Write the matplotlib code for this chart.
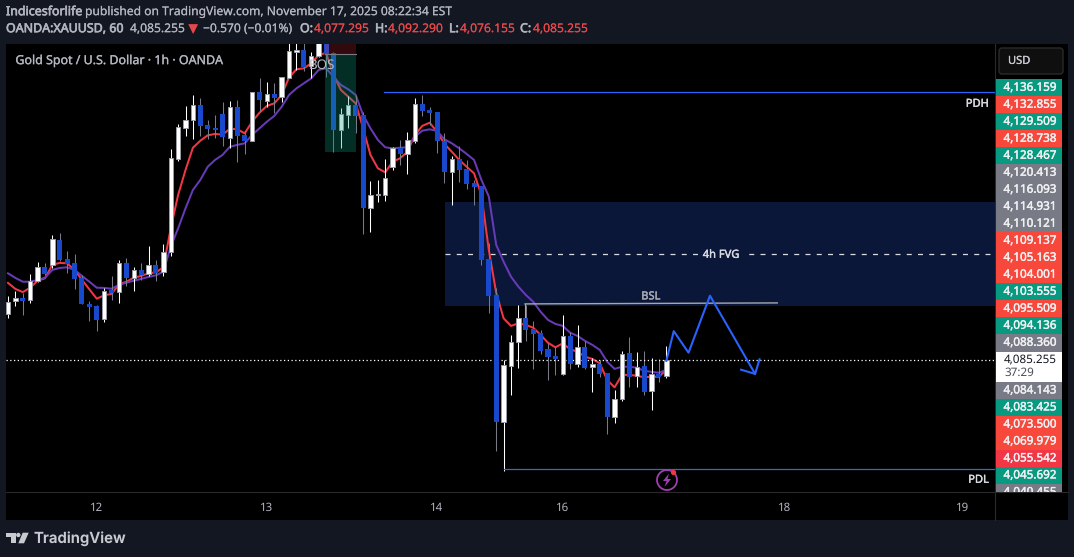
# -*- coding: utf-8 -*-
import matplotlib
matplotlib.use("Agg")
import matplotlib.pyplot as plt
import matplotlib.patheffects as pe
from matplotlib.patches import Rectangle, Circle, Polygon, FancyBboxPatch

plt.rcParams['font.family'] = ['Noto Sans', 'DejaVu Sans']
plt.rcParams['text.hinting'] = 'no_hinting'

# hourly candles
opens = [4108.1, 4114.6, 4116.3, 4115.1, 4124.9, 4131.6, 4132.9, 4145.1, 4135.6, 4133.6,
         4126.1, 4113.3, 4112.3, 4105.6, 4120.3, 4119.1, 4133.6, 4126.4, 4130.3, 4128.1,
         4132.6, 4129.4, 4139.1, 4185.9, 4201.4, 4205.1, 4212.6, 4202.6, 4201.3, 4208.3,
         4196.4, 4211.6, 4197.8, 4194.9, 4219.3, 4214.9, 4218.3, 4216.6, 4226.4, 4239.4,
         4240.3, 4232.4, 4237.3, 4246.3, 4238.6, 4200.3, 4207.8, 4212.8, 4207.8, 4161.4,
         4167.8, 4167.8, 4181.6, 4191.4, 4188.4, 4194.9, 4213.3, 4210.3, 4209.3, 4194.8,
         4179.4, 4185.8, 4180.6, 4173.8, 4172.3, 4135.8, 4117.8, 4054.4, 4082.4, 4094.1,
         4106.3, 4100.6, 4098.6, 4090.8, 4087.3, 4078.1, 4097.3, 4083.1, 4091.6, 4081.6,
         4083.3, 4078.8, 4056.9, 4065.6, 4088.6, 4077.1, 4082.1, 4069.6, 4078.4, 4077.295]
highs = [4117.3, 4119.8, 4118.6, 4128.3, 4134.3, 4133.6, 4147.8, 4148.8, 4139.8, 4138.3,
         4127.8, 4114.8, 4112.8, 4121.1, 4127.3, 4135.3, 4136.3, 4131.6, 4133.8, 4142.3,
         4135.3, 4143.3, 4190.8, 4203.3, 4212.3, 4217.8, 4216.3, 4205.3, 4207.6, 4214.1,
         4214.8, 4215.3, 4199.9, 4219.1, 4226.1, 4224.3, 4223.6, 4226.8, 4246.3, 4245.3,
         4245.3, 4239.4, 4247.3, 4247.3, 4239.4, 4211.3, 4217.3, 4217.8, 4209.4, 4174.8,
         4175.3, 4185.8, 4191.6, 4195.3, 4199.3, 4216.3, 4217.8, 4211.8, 4209.3, 4198.8,
         4187.3, 4192.3, 4185.3, 4175.3, 4172.3, 4143.8, 4121.1, 4085.3, 4097.8, 4112.8,
         4112.8, 4104.8, 4100.3, 4093.8, 4091.9, 4107.8, 4099.1, 4102.8, 4094.8, 4086.4,
         4085.3, 4078.8, 4070.3, 4089.8, 4096.6, 4089.3, 4089.6, 4086.1, 4085.6, 4092.29]
lows = [4106.4, 4112.5, 4107.8, 4113.9, 4124.4, 4127.8, 4131.4, 4134.9, 4128.6, 4120.9,
        4113.4, 4104.9, 4099.9, 4104.4, 4115.3, 4113.9, 4122.4, 4119.9, 4125.3, 4127.3,
        4124.9, 4127.3, 4137.3, 4184.9, 4197.3, 4195.8, 4197.3, 4195.8, 4196.4, 4192.4,
        4191.1, 4184.4, 4188.3, 4194.9, 4209.4, 4211.8, 4208.9, 4214.4, 4226.1, 4230.3,
        4229.8, 4226.1, 4236.8, 4226.9, 4189.4, 4191.1, 4201.1, 4198.6, 4148.3, 4149.3,
        4164.3, 4164.8, 4180.3, 4182.8, 4178.3, 4193.9, 4207.3, 4202.8, 4188.8, 4173.8,
        4162.8, 4174.3, 4170.8, 4162.8, 4132.8, 4108.9, 4039.9, 4029.9, 4067.8, 4081.4,
        4094.8, 4080.9, 4088.3, 4075.3, 4077.9, 4077.8, 4080.8, 4081.9, 4080.9, 4069.4,
        4076.9, 4048.4, 4053.9, 4064.9, 4071.9, 4071.9, 4067.8, 4060.3, 4074.3, 4076.155]
closes = [4114.4, 4116.1, 4114.8, 4124.9, 4131.6, 4128.4, 4145.6, 4135.4, 4133.3, 4125.9,
          4113.4, 4111.8, 4105.4, 4119.9, 4118.8, 4133.6, 4126.4, 4130.1, 4127.8, 4132.6,
          4128.8, 4139.1, 4186.1, 4201.6, 4205.1, 4212.6, 4202.4, 4200.8, 4200.4, 4196.6,
          4211.6, 4197.4, 4194.8, 4219.1, 4215.4, 4218.1, 4216.4, 4226.6, 4239.6, 4240.3,
          4231.6, 4237.3, 4246.3, 4238.1, 4200.3, 4208.3, 4212.8, 4207.3, 4161.4, 4167.6,
          4168.3, 4176.1, 4191.4, 4188.3, 4195.1, 4213.1, 4209.8, 4208.8, 4194.8, 4179.3,
          4185.6, 4180.3, 4173.3, 4171.8, 4135.3, 4117.3, 4054.4, 4082.6, 4094.1, 4106.1,
          4100.3, 4098.4, 4089.8, 4086.9, 4085.8, 4097.1, 4083.4, 4091.6, 4081.4, 4083.1,
          4078.4, 4056.9, 4065.6, 4088.1, 4076.9, 4081.9, 4069.3, 4078.1, 4076.8, 4085.255]

ma_fast = [4123.8, 4120.8, 4119.2, 4121.4, 4124.9, 4126.1, 4132.9, 4133.8, 4133.6, 4130.3,
           4125.3, 4120.6, 4115.9, 4117.6, 4118.3, 4123.1, 4124.4, 4126.4, 4127.3, 4128.6,
           4129.1, 4131.6, 4151.1, 4167.8, 4180.3, 4191.4, 4194.9, 4197.6, 4198.3, 4197.9,
           4200.9, 4200.6, 4198.6, 4204.4, 4208.9, 4212.3, 4213.6, 4217.8, 4226.6, 4230.6,
           4231.1, 4233.6, 4237.8, 4238.8, 4227.8, 4220.3, 4216.9, 4213.6, 4201.3, 4187.8,
           4181.1, 4179.1, 4184.4, 4186.1, 4189.4, 4197.8, 4202.3, 4203.9, 4199.4, 4193.3,
           4189.4, 4185.3, 4181.9, 4178.6, 4167.8, 4140.3, 4118.8, 4106.1, 4102.3, 4103.6,
           4102.8, 4101.4, 4097.8, 4093.9, 4091.6, 4093.6, 4090.6, 4089.4, 4086.9, 4085.8,
           4083.6, 4075.3, 4071.6, 4077.8, 4077.8, 4077.4, 4076.6, 4076.9, 4076.9, 4080.3]
ma_slow = [4128.6, 4126.3, 4124.4, 4124.4, 4125.3, 4126.4, 4130.3, 4131.3, 4131.6, 4130.3,
           4127.3, 4124.4, 4121.4, 4121.3, 4120.9, 4122.8, 4123.9, 4124.9, 4125.8, 4126.8,
           4127.6, 4129.4, 4141.9, 4151.1, 4161.1, 4170.3, 4175.3, 4181.9, 4185.3, 4187.8,
           4191.9, 4192.8, 4193.6, 4197.8, 4201.1, 4204.4, 4207.3, 4211.9, 4217.8, 4221.1,
           4223.6, 4226.1, 4230.3, 4231.1, 4226.9, 4222.8, 4220.6, 4217.8, 4207.8, 4201.1,
           4195.3, 4191.6, 4191.1, 4191.4, 4191.6, 4196.9, 4199.9, 4200.6, 4199.8, 4195.6,
           4193.6, 4191.1, 4188.3, 4185.3, 4175.3, 4167.0, 4142.8, 4134.4, 4126.9, 4121.9,
           4117.8, 4114.4, 4109.4, 4105.3, 4103.3, 4102.3, 4098.9, 4097.3, 4094.8, 4092.8,
           4090.3, 4084.4, 4080.8, 4081.9, 4081.9, 4081.4, 4079.9, 4079.3, 4078.9, 4080.3]

tick_bars = [12, 35, 58, 75, 105, 129]
tick_labels = ["12", "13", "14", "16", "18", "19"]

# hand drawn projection and levels
path_bars = [89, 90, 92, 94.9, 101, 101.6]
path_prices = [4084.8, 4099.7, 4088.9, 4117.4, 4078.3, 4085.6]
arrow_bars = [99.1, 101]
arrow_prices = [4080.4, 4078.3]
pdh = 4219.3
pdl = 4030.8
bsl_bars = [69.9, 104]
bsl_prices = [4113.3, 4113.8]
fvg_top = 4164.3
fvg_bottom = 4112.3
fvg_mid = 4138.3
bos_level = 4238.3
bos_stop = 4189.4
last_price = 4085.255

teal = "#089981"
red = "#f7483b"
grey = "#787b86"
crimson = "#f23645"
scale_labels = [("4,136.159", teal), ("4,132.855", red), ("4,129.509", teal), ("4,128.738", red),
                ("4,128.467", teal), ("4,120.413", grey), ("4,116.093", grey), ("4,114.931", grey),
                ("4,110.121", grey), ("4,109.137", red), ("4,105.163", red), ("4,104.001", red),
                ("4,103.555", teal), ("4,095.509", red), ("4,094.136", teal), ("4,088.360", grey)]
scale_labels_low = [("4,084.143", grey), ("4,083.425", teal), ("4,073.500", red), ("4,069.979", red),
                    ("4,055.542", crimson), ("4,045.692", teal), ("4,040.455", grey)]

W, H = 1074, 557
BG = "#131722"
TXT = "#b2b5be"
BLUE = "#1848cc"


def heavy(color, w=0.3):
    # Noto Sans here has no real bold, thicken the outline instead
    return [pe.withStroke(linewidth=w, foreground=color)]


fig = plt.figure(figsize=(W / 100, H / 100), dpi=100, facecolor=BG)

# black part of the window behind the time axis
fig.add_artist(Rectangle((6 / W, 1 - 520 / H), 1062 / W, 476 / H, transform=fig.transFigure,
                         fc="black", ec="none", zorder=0))

# main pane, 6..995 x 44..491 in pixels
ax = fig.add_axes([6 / W, 1 - 491 / H, 989 / W, 447 / H], facecolor="black", zorder=1)
ax.set_xlim(-0.27, 133.43)
ax.set_ylim(4019.755, 4243.255)
for s in ax.spines.values():
    s.set_visible(False)
ax.set_yticks([])
ax.set_xticks(tick_bars)
ax.set_xticklabels(tick_labels, color=TXT, fontsize=8.3)
ax.tick_params(axis="x", length=0, pad=8)

ax.add_patch(Rectangle((59.1, fvg_bottom), 80, fvg_top - fvg_bottom, fc="#0a1738", ec="none", zorder=1))
ax.plot([59.1, 134], [fvg_mid, fvg_mid], color="#d8dbe2", lw=0.9, dashes=(4, 5), zorder=1.5)

bars = range(len(opens))
ax.plot(bars, ma_fast, color=crimson, lw=1.45, zorder=2)
ax.plot(bars, ma_slow, color="#673ab7", lw=1.45, zorder=2)

for i in bars:
    up = closes[i] >= opens[i]
    bottom = min(opens[i], closes[i])
    height = max(abs(closes[i] - opens[i]), 0.4)
    ax.vlines(i, lows[i], highs[i], color="white" if up else grey, lw=0.75, zorder=3)
    if up:
        ax.bar(i, height, 0.6, bottom=bottom, color="white", edgecolor="#9a9da6", linewidth=0.7, zorder=4)
    else:
        ax.bar(i, height, 0.68, bottom=bottom, color=BLUE, linewidth=0, zorder=4)

# BOS position box sits over the candles
ax.add_patch(Rectangle((42.9, bos_stop), 4.1, bos_level - bos_stop, fc=teal, alpha=0.3, ec="none", zorder=5))
ax.add_patch(Rectangle((42.9, bos_level), 4.1, 10, fc=crimson, alpha=0.2, ec="none", zorder=5))
ax.plot([42.9, 47], [bos_level, bos_level], color=grey, lw=0.8, zorder=5)
ax.text(42.4, 4232.8, "BOS", color="#b7bac2", fontsize=9.6, ha="center", va="center", zorder=6)

ax.axhline(last_price, color="white", lw=0.9, dashes=(1, 2), zorder=3.5)
ax.plot([50.8, 134], [pdh, pdh], color="#2962ff", lw=0.9, zorder=3)
ax.plot([67, 134], [pdl, pdl], color="#3f63c8", lw=0.9, zorder=3)
ax.plot(bsl_bars, bsl_prices, color="#a5a8b0", lw=1.0, zorder=3)
ax.plot([69.9, 69.9], [4113.3, 4105], color="#a5a8b0", lw=0.8, zorder=3)
ax.plot(path_bars, path_prices, color="#2962ff", lw=1.5, zorder=6)
ax.plot(arrow_bars, arrow_prices, color="#2962ff", lw=1.5, zorder=6)

ax.text(96.4, fvg_mid - 0.5, "4h FVG", color="#d8dbe2", fontsize=8, ha="center", va="center", zorder=6,
        bbox=dict(fc="#0a1738", ec="none", pad=3.5), path_effects=heavy("#d8dbe2"))
ax.text(86.9, 4117.0, "BSL", color="#a5a8b0", fontsize=8, ha="center", va="center", zorder=6,
        path_effects=heavy("#a5a8b0"))
ax.text(132.6, 4213.3, "PDH", color="#d8dbe2", fontsize=8, ha="right", va="center", zorder=6,
        path_effects=heavy("#d8dbe2"))
ax.text(132.6, 4025.3, "PDL", color="#d8dbe2", fontsize=8, ha="right", va="center", zorder=6,
        path_effects=heavy("#d8dbe2"))
ax.text(1.0, 4234.8, "Gold Spot / U.S. Dollar · 1h · OANDA", color=TXT, fontsize=8.95, ha="left", va="center",
        zorder=6, path_effects=heavy(TXT, 0.2))

# everything around the pane, pixel coordinates
top = fig.add_axes([0, 0, 1, 1], facecolor="none", zorder=2)
top.set_xlim(0, W)
top.set_ylim(H, 0)
top.axis("off")

top.plot([995, 995], [44, 520], color="#2a2a2a", lw=0.8)
top.plot([6, 1068], [492, 492], color="#2a2a2a", lw=0.8)

top.add_patch(FancyBboxPatch((999, 48), 64, 26, boxstyle="round,pad=0,rounding_size=3", fc="#0f0f0f", ec="#2a2a2a", lw=1))
top.text(1008, 61, "USD", color="#c8cad0", fontsize=8, va="center", path_effects=heavy("#c8cad0", 0.2))

# last label gets cut by the time axis
clip = Rectangle((996, 44), 66, 447.5, transform=top.transData)


def scale_label(y, text, color):
    box = Rectangle((996, y - 8.55), 66, 17.1, fc=color, ec="none", zorder=2)
    top.add_patch(box)
    box.set_clip_path(clip)
    t = top.text(1030, y - 0.3, text, color="#f0f1f3", fontsize=8.4, ha="center", va="center", zorder=3,
                 path_effects=heavy("#f0f1f3", 0.3), clip_on=True)
    t.set_clip_path(clip)


y = 88.0
for text, color in scale_labels:
    scale_label(y, text, color)
    y += 17.0
top.add_patch(Rectangle((996, 352), 66, 31, fc="white", ec="none", zorder=2))
top.text(1004, 359, "4,085.255", color="#131722", fontsize=8.4, va="center", zorder=3)
top.text(1004, 373, "37:29", color="#4a4d57", fontsize=8.4, va="center", zorder=3)
y = 390.7
for text, color in scale_labels_low:
    scale_label(y, text, color)
    y += 17.0

# alert icon
top.add_patch(Circle((667, 480), 10, fc="none", ec="#a03fb0", lw=1.3, zorder=4))
top.add_patch(Polygon([(669, 473.5), (663, 481), (666.5, 481), (664.5, 487), (671, 479), (667.5, 479)],
                      fc="#a03fb0", ec="none", zorder=4))
top.add_patch(Circle((673.5, 472.5), 2.6, fc=crimson, ec="none", zorder=5))

# header strip
hdr = "#b2b5be"
hdr_red = "#e5484a"


def head(x, y, text, color=hdr, bold=False):
    top.text(x, y, text, color=color, fontsize=8.95 if bold else 8.7, va="center",
             path_effects=heavy(color, 0.45 if bold else 0.1))


head(6, 12, "Indicesforlife", bold=True)
head(85, 12, "published on TradingView.com, November 17, 2025 08:22:34 EST")
head(6, 29, "OANDA:XAUUSD, 60", bold=True)
head(130, 29, "4,085.255")
head(188.5, 29, "▼", hdr_red)
head(203, 29, "−0.570 (−0.01%)")
head(300, 29, "O:", bold=True)
head(314, 29, "4,077.295", hdr_red)
head(375, 29, "H:", bold=True)
head(388, 29, "4,092.290", hdr_red)
head(449, 29, "L:", bold=True)
head(460, 29, "4,076.155", hdr_red)
head(520, 29, "C:", bold=True)
head(533, 29, "4,085.255", hdr_red)

# TradingView logo
logo = "#c8cad0"
top.add_patch(Polygon([(6, 532.7), (15.7, 532.7), (15.7, 543.3), (11, 543.3), (11, 537.3), (6, 537.3)], fc=logo, ec="none"))
top.add_patch(Circle((18.3, 535), 2.2, fc=logo, ec="none"))
top.add_patch(Polygon([(22.7, 532.7), (28.7, 532.7), (24, 543.3), (18.3, 543.3)], fc=logo, ec="none"))
top.text(33, 538.5, "TradingView", color=logo, fontsize=10.8, fontweight="semibold", family="Inter", va="center")

fig.savefig("out.png", dpi=100, facecolor=BG)
